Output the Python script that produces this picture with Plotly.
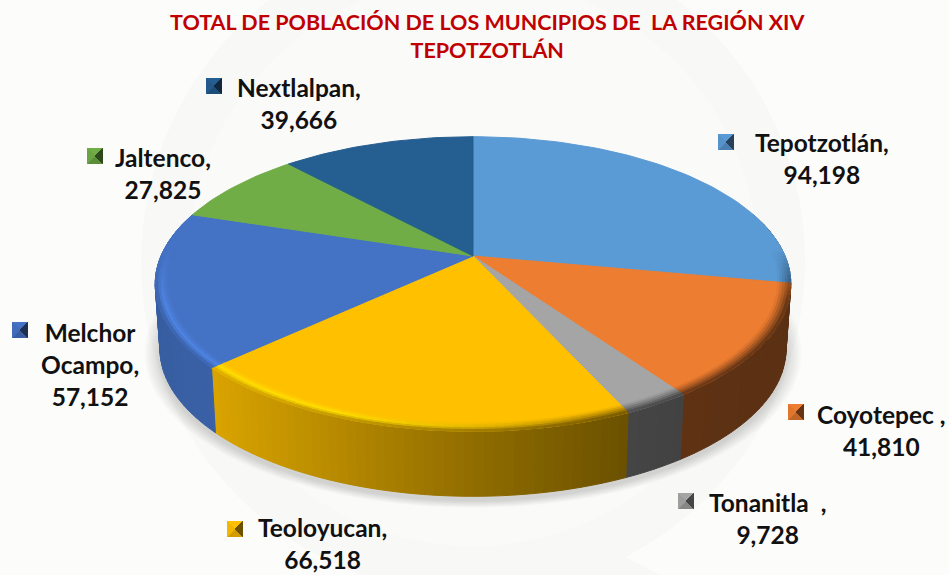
import numpy as np
import plotly.graph_objects as go

# ---- data ----
municipios = ["Tepotzotlán", "Coyotepec", "Tonanitla", "Teoloyucan", "Melchor Ocampo", "Jaltenco", "Nextlalpan"]
poblacion = [94198, 41810, 9728, 66518, 57152, 27825, 39666]
etiquetas = ["Tepotzotlán,", "Coyotepec ,", "Tonanitla  ,", "Teoloyucan,", "Melchor<br>Ocampo,", "Jaltenco,", "Nextlalpan,"]
colores = ["#5B9BD5", "#ED7D31", "#A5A5A5", "#FFC000", "#4472C4", "#70AD47", "#255E91"]
titulo = "TOTAL DE POBLACIÓN DE LOS MUNCIPIOS DE  LA REGIÓN XIV<br>TEPOTZOTLÁN"

# ---- layout in picture pixels ----
W, H = 949, 575
CX, CY, BX, AY, PERSP = 473, 256, 312, 142, 0.19
DEPTH, BOTTOM_SCALE = 65, 0.985
label_pos = [(822, 158), (881, 430), (767, 518), (322, 543), (90, 364), (163, 173), (299, 103)]
key_pos = [(726, 142), (796, 412), (686, 501), (235, 529), (20, 330), (95, 156), (214, 86)]
KEY = 7.5
BG, RING = "#FCFCFB", "#F8F8F7"


def hex2rgb(h):
    return np.array([int(h[i:i + 2], 16) for i in (1, 3, 5)], float)


def css(c):
    c = np.clip(c, 0, 255).round().astype(int)
    return f"rgb({c[0]},{c[1]},{c[2]})"


def project(theta, r=1.0):
    """Angle clockwise from 12 o'clock on the tilted disc -> picture pixels."""
    u, v = r * np.sin(theta), r * np.cos(theta)
    den = 1 + PERSP * v
    return CX + BX * u / den, CY - AY * v / den


def lighting(x):
    return np.interp(x, [150, 215, 440, 625, 680, 800], [0.82, 0.85, 0.6, 0.42, 0.4, 0.38])


fig = go.Figure()


def poly(xs, ys, color, edge=True):
    fig.add_trace(go.Scatter(x=list(xs), y=list(ys), mode="lines", fill="toself", fillcolor=color,
                             line=dict(color=color, width=1) if edge else dict(width=0),
                             hoverinfo="skip", showlegend=False))


# soft shadow under the disc
full = np.linspace(0, 2 * np.pi, 181)
for k, s in enumerate(np.linspace(1.05, 1.0, 10)):
    x, y = project(full)
    poly(CX + (x - CX) * BOTTOM_SCALE * s, (y - 300) * s + 300 + DEPTH + 5, "rgba(0,0,0,0.016)", edge=False)

total = sum(poblacion)
edges = np.concatenate([[0], np.cumsum(poblacion)]) / total * 2 * np.pi
spans = []
for i in range(len(poblacion)):
    n = max(int(np.degrees(edges[i + 1] - edges[i]) / 1.5), 2)
    spans.append(np.linspace(edges[i], edges[i + 1], n + 1))

# outer wall
for th, col in zip(spans, colores):
    base = hex2rgb(col)
    for a, b in zip(th[:-1], th[1:]):
        if np.cos((a + b) / 2) > 0.3:
            continue
        x0, y0 = project(np.array([a, b]))
        xb = CX + (x0 - CX) * BOTTOM_SCALE
        yb = y0 + DEPTH
        poly([x0[0], x0[1], xb[1], xb[0], x0[0]], [y0[0], y0[1], yb[1], yb[0], y0[0]],
             css(base * lighting(x0.mean())))

# top faces
for th, col in zip(spans, colores):
    x, y = project(th)
    poly([CX, *x, CX], [CY, *y, CY], col)

# bevel round the rim (smooth ramp: face -> highlight or shade -> wall colour)
RINGS = np.linspace(0.96, 1.0, 6)
for th, col in zip(spans, colores):
    top = hex2rgb(col)
    for a, b in zip(th[:-1], th[1:]):
        m = (a + b) / 2
        fade = np.clip((0.05 - np.cos(m)) / 0.35, 0, 1)
        if fade <= 0:
            continue
        xm = project(np.array([m]))[0][0]
        wall = top * lighting(xm)
        s = np.clip((xm - 330) / 260, 0, 1)
        mid = (1 - s) * np.minimum(top * 1.16, 255) + s * (0.5 * top + 0.5 * wall)
        for j in range(len(RINGS) - 1):
            t = (j + 0.5) / (len(RINGS) - 1)
            c = top + (mid - top) * (t / 0.55) if t < 0.55 else mid + (wall - mid) * ((t - 0.55) / 0.45)
            c = (1 - fade) * top + fade * c
            xa, ya = project(np.array([a, b]), RINGS[j])
            xc, yc = project(np.array([b, a]), RINGS[j + 1])
            poly([*xa, *xc, xa[0]], [*ya, *yc, ya[0]], css(c))

# legend keys (small bevelled squares)
for (kx, ky), col in zip(key_pos, colores):
    c = hex2rgb(col)
    L, R, T, B = kx - KEY, kx + KEY, ky - KEY, ky + KEY
    poly([L, R, kx, L], [T, T, ky, T], css(c * 1.0))
    poly([L, R, kx, L], [B, B, ky, B], css(c * 0.82))
    poly([L, kx, L, L], [T, ky, B, T], css(c * 0.95))
    poly([R, kx, R, R], [T, ky, B, T], css(c * 0.42))

annotations = [dict(x=W / 2 + 13, y=36, xref="x", yref="y", text=f"<b>{titulo}</b>", showarrow=False,
                    font=dict(family="Lato", size=21.5, color="#C00000"), align="center")]
for (lx, ly), name, val in zip(label_pos, etiquetas, poblacion):
    annotations.append(dict(x=lx, y=ly, xref="x", yref="y", text=f"<b>{name}<br>{val:,}</b>", showarrow=False,
                            font=dict(family="Lato", size=24.5, color="#111111"), align="center"))

shapes = [
    dict(type="circle", layer="below", x0=CX - 332, x1=CX + 332, y0=-70, y1=594, fillcolor=RING, line_width=0),
    dict(type="circle", layer="below", x0=CX - 285, x1=CX + 285, y0=-22, y1=546, fillcolor="#FAFAF9", line_width=0),
    dict(type="path", layer="below", path="M 545 575 L 603 545 L 660 575 Z", fillcolor=RING, line_width=0),
]

fig.update_layout(
    width=W, height=H, margin=dict(l=0, r=0, t=0, b=0), paper_bgcolor=BG, plot_bgcolor=BG,
    xaxis=dict(range=[0, W], visible=False, fixedrange=True),
    yaxis=dict(range=[H, 0], visible=False, fixedrange=True),
    showlegend=False, annotations=annotations, shapes=shapes,
)
fig.write_html("out.html", config={"displayModeBar": False},
               post_script="document.body.style.margin='0';document.documentElement.style.overflow='hidden';")
